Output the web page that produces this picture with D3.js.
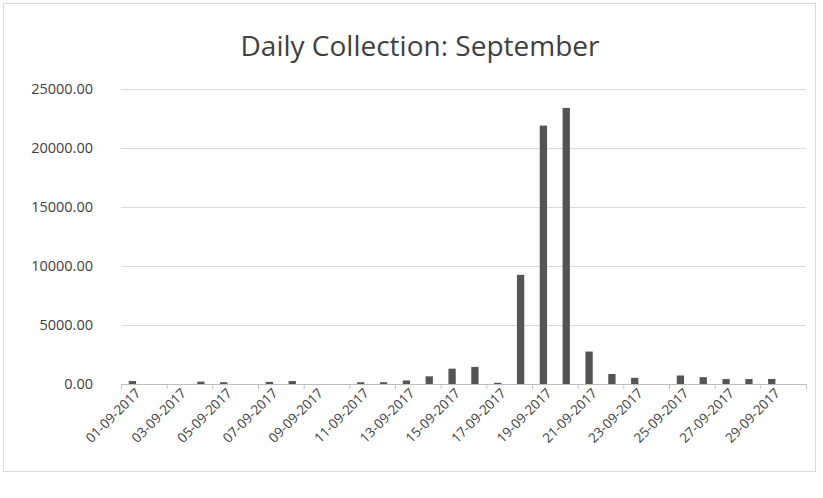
<!DOCTYPE html>
<html>
<head>
<meta charset="utf-8">
<script src="https://cdn.jsdelivr.net/npm/d3@7"></script>
<style>
  body { margin: 0; background: #fff; }
  text { font-family: "Open Sans", "Noto Sans", sans-serif; }
</style>
</head>
<body>
<div id="chart"></div>
<script>
const days = d3.range(1, 31).map((d) => `${String(d).padStart(2, "0")}-09-2017`);
const collection = [
  250, 0, 0, 200, 150, 0, 180, 250, 0, 0,
  150, 150, 300, 650, 1300, 1450, 100, 9250, 21900, 23400,
  2750, 850, 520, 0, 720, 580, 420, 420, 430, 0,
];
const yTicks = [0, 5000, 10000, 15000, 20000, 25000];

const width = 823, height = 498;
const margin = { top: 89, right: 17, bottom: 114, left: 121 };
const innerW = width - margin.left - margin.right;
const innerH = height - margin.top - margin.bottom;

const svg = d3.select("#chart").append("svg")
  .attr("width", width)
  .attr("height", height);

// chart border
svg.append("rect")
  .attr("x", 3.5).attr("y", 3.5)
  .attr("width", 812).attr("height", 468)
  .attr("fill", "none")
  .attr("stroke", "#d9d9d9");

svg.append("text")
  .attr("x", 420)
  .attr("y", 56)
  .attr("text-anchor", "middle")
  .attr("font-size", "28px")
  .attr("fill", "#404040")
  .text("Daily Collection: September");

const g = svg.append("g")
  .attr("transform", `translate(${margin.left},${margin.top})`);

const x = d3.scaleBand().domain(days).range([0, innerW]).paddingInner(0.68).paddingOuter(0.34);
const y = d3.scaleLinear().domain([0, 25000]).range([innerH, 0]);

// gridlines
g.append("g")
  .selectAll("line")
  .data(yTicks.slice(1))
  .join("line")
  .attr("x1", 0).attr("x2", innerW)
  .attr("y1", (d) => y(d) + 0.5).attr("y2", (d) => y(d) + 0.5)
  .attr("stroke", "#d9d9d9");

// y labels
g.append("g")
  .call(d3.axisLeft(y).tickValues(yTicks).tickFormat(d3.format(".2f")).tickSize(0).tickPadding(28))
  .call((a) => a.select(".domain").remove())
  .selectAll("text")
  .attr("font-size", "14.5px")
  .attr("fill", "#404040");

// bars
g.selectAll(".bar")
  .data(collection)
  .join("rect")
  .attr("class", "bar")
  .attr("x", (d, i) => x(days[i]))
  .attr("y", (d) => y(d))
  .attr("width", x.bandwidth())
  .attr("height", (d) => innerH - y(d))
  .attr("fill", "#555555");

// x axis
const step = x.step();
const xAxis = g.append("g").attr("transform", `translate(0,${innerH})`);
xAxis.append("line")
  .attr("x1", 0).attr("x2", innerW)
  .attr("y1", 0.5).attr("y2", 0.5)
  .attr("stroke", "#bfbfbf");
xAxis.selectAll(".tick")
  .data(d3.range(0, 31, 2))
  .join("line")
  .attr("class", "tick")
  .attr("x1", (d) => d * step + 0.5).attr("x2", (d) => d * step + 0.5)
  .attr("y1", 0).attr("y2", 5)
  .attr("stroke", "#bfbfbf");
xAxis.selectAll("text")
  .data(days.filter((d, i) => i % 2 === 0))
  .join("text")
  .attr("transform", (d) => `translate(${x(d) + x.bandwidth() / 2 + 9},10) rotate(-45)`)
  .attr("text-anchor", "end")
  .attr("font-size", "13.5px")
  .attr("fill", "#404040")
  .text((d) => d);
</script>
</body>
</html>
